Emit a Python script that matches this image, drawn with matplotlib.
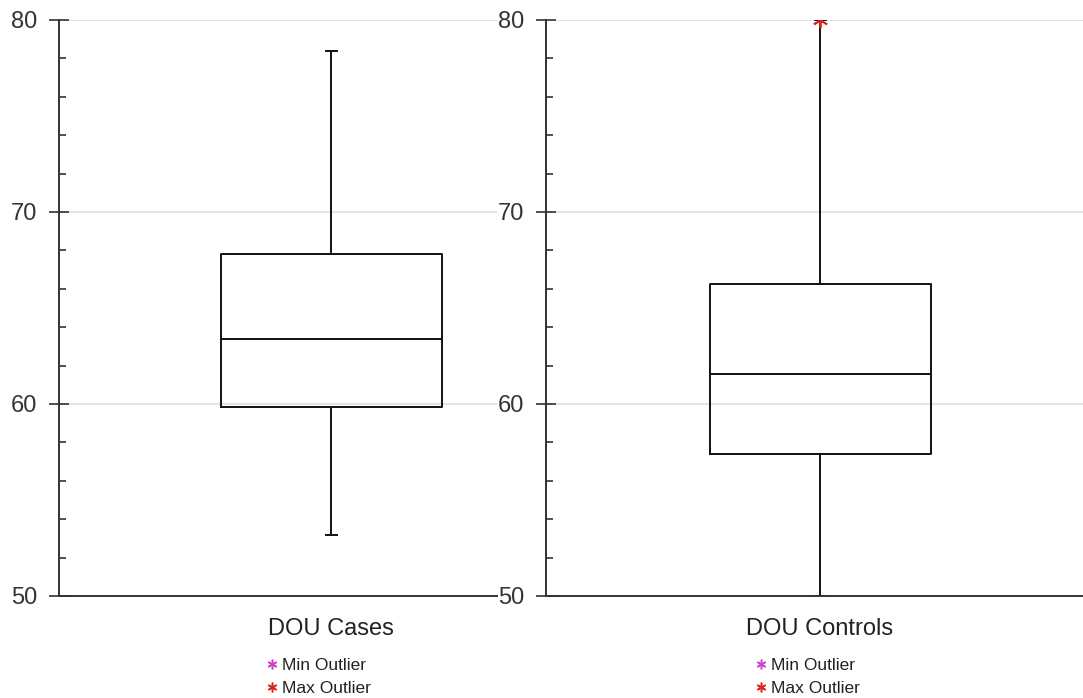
import matplotlib
matplotlib.use("Agg")
import matplotlib.pyplot as plt
from matplotlib.lines import Line2D

plt.rcParams['font.family'] = ['Liberation Sans', 'DejaVu Sans']

# valores
grupos = ["DOU Cases", "DOU Controls"]
minimos = [53.2, 50.0]
q1 = [59.85, 57.4]
medianas = [63.4, 61.55]
q3 = [67.8, 66.25]
maximos = [78.4, 80.0]
outliers_max = [[], [80.0]]

color_min = '#cc44cc'
color_max = '#dd2222'
color_eje = '#333333'

W, H = 1083, 698
fig = plt.figure(figsize=(W / 100, H / 100), dpi=100)

# posiciones en pixeles: (izq, der, centro caja, ancho caja)
paneles = [(59, 497, 331, 221), (546, 1083, 820, 221)]
top_px, bot_px = 20, 596

for i, (x0, x1, xc, wb) in enumerate(paneles):
    ax = fig.add_axes([x0 / W, 1 - bot_px / H, (x1 - x0) / W, (bot_px - top_px) / H])
    ax.set_xlim(x0, x1)
    ax.set_ylim(50, 80)
    stats = [dict(med=medianas[i], q1=q1[i], q3=q3[i], whislo=minimos[i], whishi=maximos[i],
                  fliers=outliers_max[i], label=grupos[i])]
    ax.bxp(stats, positions=[xc], widths=wb, manage_ticks=False,
           boxprops=dict(color='#111111', linewidth=1.4),
           medianprops=dict(color='#111111', linewidth=1.4),
           whiskerprops=dict(color='#111111', linewidth=1.4),
           capprops=dict(color='#111111', linewidth=1.4), capwidths=11,
           flierprops=dict(marker=(6, 2, 0), markeredgecolor=color_max, markersize=11,
                           markeredgewidth=1.3, linestyle='none'))
    ax.set_xticks([xc])
    ax.set_xticklabels([grupos[i]], fontsize=17, color='#222222')
    ax.tick_params(axis='x', length=0, pad=16)
    ax.set_yticks([50, 60, 70, 80])
    ax.set_yticks(range(50, 81, 2), minor=True)
    ax.tick_params(axis='y', which='major', direction='inout', length=15, width=1.2,
                   labelsize=17, labelcolor='#333333', color=color_eje, pad=8)
    ax.tick_params(axis='y', which='minor', direction='in', length=5, width=1.2, color=color_eje)
    ax.grid(axis='y', which='major', color='#dddddd', linewidth=1.2)
    ax.set_axisbelow(True)
    for s in ['top', 'right']:
        ax.spines[s].set_visible(False)
    for s in ['left', 'bottom']:
        ax.spines[s].set_color(color_eje)
        ax.spines[s].set_linewidth(1.4)
    ax.patch.set_alpha(0)

    handles = [Line2D([], [], marker=(6, 2, 0), linestyle='', markeredgecolor=color_min,
                      markersize=7, markeredgewidth=1.1),
               Line2D([], [], marker=(6, 2, 0), linestyle='', markeredgecolor=color_max,
                      markersize=7, markeredgewidth=1.1)]
    leg = ax.legend(handles, ["Min Outlier", "Max Outlier"], loc='upper left',
                    bbox_to_anchor=((xc - 64 - x0) / (x1 - x0), -0.107), frameon=False,
                    fontsize=12.5, handlelength=0.6, handletextpad=0.25, labelspacing=0.45,
                    borderpad=0, borderaxespad=0)
    for t in leg.get_texts():
        t.set_color('#222222')

fig.savefig("out.png", dpi=100)
